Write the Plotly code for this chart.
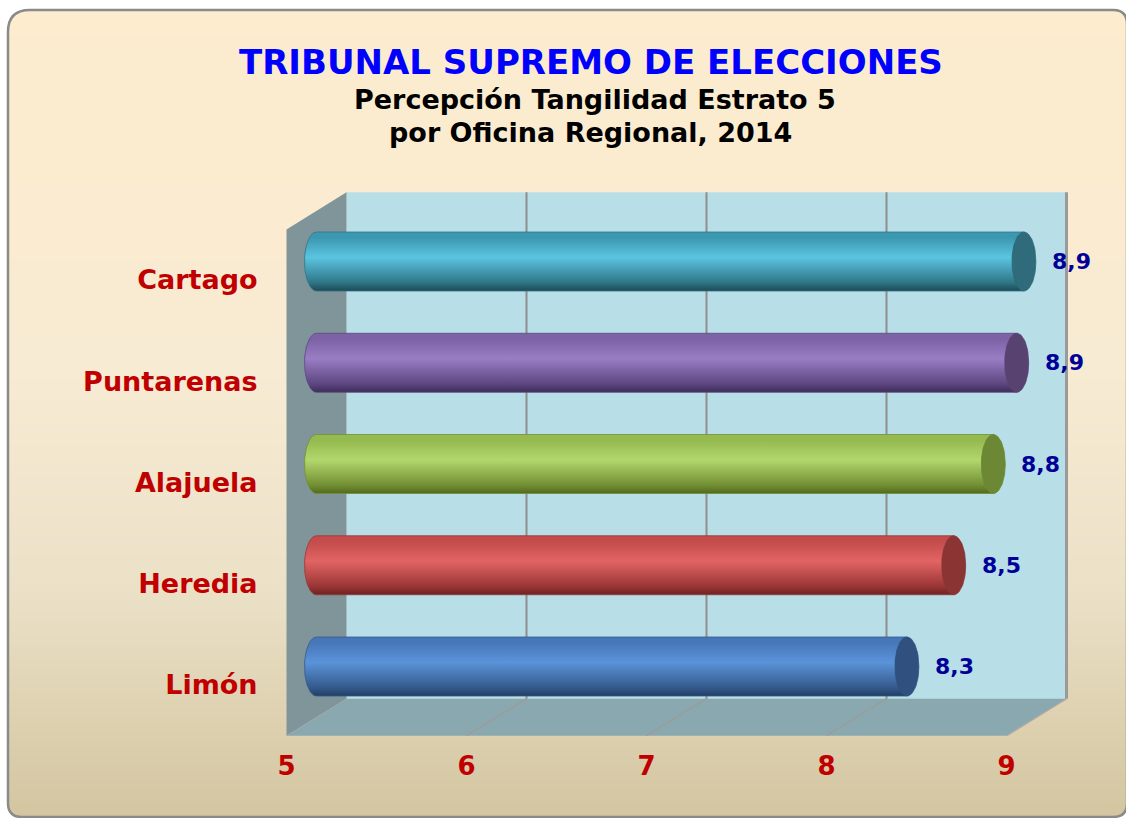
import numpy as np
import plotly.graph_objects as go

# ---------------- data ----------------
categories = ["Limón", "Heredia", "Alajuela", "Puntarenas", "Cartago"]
values = [8.28, 8.54, 8.76, 8.89, 8.93]
x_ticks = [5, 6, 7, 8, 9]
x_tick_labels = ["5", "6", "7", "8", "9"]
title_text = "TRIBUNAL SUPREMO DE ELECCIONES"
subtitle_lines = ["Percepción Tangilidad Estrato 5", "por Oficina Regional, 2014"]

# ---------------- styles ----------------
bar_styles = [
    dict(bottom="#213F63", low="#34598C", hi="#5B93D9", top="#4777B8", cap="#30517F"),   # Limón
    dict(bottom="#6E2222", low="#9A3535", hi="#E26464", top="#C44C4C", cap="#8A3434"),   # Heredia
    dict(bottom="#52691F", low="#728F34", hi="#B3D76C", top="#94BA50", cap="#6C8834"),   # Alajuela
    dict(bottom="#3E2D58", low="#5C4680", hi="#9A7DC4", top="#7D62A6", cap="#574270"),   # Puntarenas
    dict(bottom="#1D4954", low="#2E7586", hi="#5BC5E1", top="#3C98B0", cap="#2F6B7A"),   # Cartago
]
FONT = "DejaVu Sans"
RED = "#C00000"

W, H = 1126, 818
ML, MR, MT, MB = 272, 16, 185, 82
PW, PH = W - ML - MR, H - MT - MB

# axis scale (front plane)
X5, SX = 286.5, 180.0      # pixel of value 5, px per unit
Y0, SY = 685.0, 101.25     # pixel of first category, px per category
xr = [5 - (X5 - ML) / SX, 5 + (W - MR - X5) / SX]
yr = [(Y0 - (H - MB)) / SY, (Y0 - MT) / SY]

# 3D depth offsets
DX, DY = 60 / SX, 37 / SY
CX, CY = DX / 2, DY / 2
RY = 29.5 / SY
RX = 12 / SX


def pp(px, py):
    return (px - ML) / PW, (H - MB - py) / PH


def lerp_hex(c1, c2, t):
    a = [int(c1[i:i + 2], 16) for i in (1, 3, 5)]
    b = [int(c2[i:i + 2], 16) for i in (1, 3, 5)]
    return "rgb(%d,%d,%d)" % tuple(round(a[k] + (b[k] - a[k]) * t) for k in range(3))


bg_stops = [(0.0, "#FDECCE"), (0.45, "#F8EBD3"), (0.72, "#EBE1C7"), (1.0, "#D3C5A0")]


def bg_color(t):
    for (t0, c0), (t1, c1) in zip(bg_stops[:-1], bg_stops[1:]):
        if t <= t1:
            return lerp_hex(c0, c1, (t - t0) / (t1 - t0))
    return bg_stops[-1][1]


shapes = []
# ---- background gradient inside rounded frame ----
BL_, BT_, BR_, BB_ = 8, 10, 1127, 817
rTL, rTR, rBL, rBR = 22, 14, 14, 14


def inset(y, r_top, r_bot):
    if y < BT_ + r_top:
        d = BT_ + r_top - y
        return r_top - np.sqrt(max(r_top ** 2 - d ** 2, 0))
    if y > BB_ - r_bot:
        d = y - (BB_ - r_bot)
        return r_bot - np.sqrt(max(r_bot ** 2 - d ** 2, 0))
    return 0.0


step = 3
for y in range(BT_, BB_, step):
    ym = y + step / 2
    li = inset(ym, rTL, rBL)
    ri = inset(ym, rTR, rBR)
    x0, y0 = pp(BL_ + li, min(y + step + 1, BB_))
    x1, y1 = pp(BR_ - ri, y)
    shapes.append(dict(type="rect", xref="paper", yref="paper", x0=x0, x1=x1, y0=y0, y1=y1,
                       fillcolor=bg_color(ym / H), line=dict(width=0), layer="below"))


def P(px, py):
    a, b = pp(px, py)
    return "%.5f,%.5f" % (a, b)


border = ("M " + P(BL_, BT_ + rTL) + " Q " + P(BL_, BT_) + " " + P(BL_ + rTL, BT_) +
          " L " + P(BR_ - rTR, BT_) + " Q " + P(BR_, BT_) + " " + P(BR_, BT_ + rTR) +
          " L " + P(BR_, BB_ - rBR) + " Q " + P(BR_, BB_) + " " + P(BR_ - rBR, BB_) +
          " L " + P(BL_ + rBL, BB_) + " Q " + P(BL_, BB_) + " " + P(BL_, BB_ - rBL) + " Z")
shapes.append(dict(type="path", xref="paper", yref="paper", path=border,
                   line=dict(color="#8A8A8A", width=2.5), layer="below"))

# ---- 3D walls (data coordinates) ----
xa, xb = x_ticks[0], x_ticks[-1]
ya, yb = -0.5, len(categories) - 0.5
shapes.append(dict(type="rect", xref="x", yref="y", x0=xa + DX, x1=xb + DX, y0=ya + DY, y1=yb + DY,
                   fillcolor="#B8DFE8", line=dict(width=0), layer="below"))
shapes.append(dict(type="path", xref="x", yref="y",
                   path=f"M {xa},{ya} L {xa},{yb} L {xa+DX},{yb+DY} L {xa+DX},{ya+DY} Z",
                   fillcolor="#7F9599", line=dict(width=0), layer="below"))
shapes.append(dict(type="path", xref="x", yref="y",
                   path=f"M {xa},{ya} L {xb},{ya} L {xb+DX},{ya+DY} L {xa+DX},{ya+DY} Z",
                   fillcolor="#8AA8B0", line=dict(width=0), layer="below"))
for t in x_ticks[1:-1]:
    shapes.append(dict(type="line", xref="x", yref="y", x0=t + DX, x1=t + DX, y0=ya + DY, y1=yb + DY,
                       line=dict(color="#8E8E8E", width=2), layer="below"))
    shapes.append(dict(type="line", xref="x", yref="y", x0=t, x1=t + DX, y0=ya, y1=ya + DY,
                       line=dict(color="#9C9C9C", width=1.5), layer="below"))
shapes.append(dict(type="line", xref="x", yref="y", x0=xb + DX, x1=xb + DX, y0=ya + DY, y1=yb + DY,
                   line=dict(color="#9A9A9A", width=3), layer="below"))
shapes.append(dict(type="line", xref="x", yref="y", x0=xb, x1=xb + DX, y0=ya, y1=ya + DY,
                   line=dict(color="#A8A8A8", width=1.5), layer="below"))

fig = go.Figure()

# ---- cylinders ----
th_left = np.linspace(np.pi / 2, 3 * np.pi / 2, 41)
th_full = np.linspace(0, 2 * np.pi, 81)
annotations = []
for i, (cat, v) in enumerate(zip(categories, values)):
    st = bar_styles[i]
    yc = i + CY
    x0 = x_ticks[0] + CX
    x1 = v + CX
    bx = list(x0 + RX * np.cos(th_left)) + [x1, x1, x0]
    by = list(yc + RY * np.sin(th_left)) + [yc - RY, yc + RY, yc + RY]
    fig.add_trace(go.Scatter(
        x=bx, y=by, mode="lines", fill="toself",
        line=dict(width=0.8, color=st["low"]),
        fillgradient=dict(type="vertical", start=yc - RY, stop=yc + RY,
                          colorscale=[[0, st["bottom"]], [0.14, st["low"]], [0.57, st["hi"]],
                                      [0.9, st["top"]], [1, st["top"]]]),
        hoverinfo="skip", showlegend=False))
    cx_ = x1 + RX * np.cos(th_full)
    cy_ = yc + RY * np.sin(th_full)
    fig.add_trace(go.Scatter(
        x=cx_, y=cy_, mode="lines", fill="toself",
        line=dict(width=0.8, color=st["cap"]), fillcolor=st["cap"],
        name=cat, text=[f"{cat}: {v:.1f}".replace(".", ",")] * len(cx_), hoverinfo="text",
        showlegend=False))
    annotations.append(dict(x=x1, y=yc, xref="x", yref="y", xanchor="left", yanchor="middle",
                            xshift=26, showarrow=False,
                            text=f"{v:.1f}".replace(".", ","),
                            font=dict(family=FONT, size=22, color="#000099", weight="bold")))

# ---- titles ----
tx, ty = pp(591, 62)
annotations.append(dict(x=tx, y=ty, xref="paper", yref="paper", xanchor="center", yanchor="middle",
                        showarrow=False, text=title_text,
                        font=dict(family=FONT, size=34, color="#0000FF", weight="bold")))
for line, (lx, ly) in zip(subtitle_lines, [(595, 100), (590, 132)]):
    ax_, ay_ = pp(lx, ly)
    annotations.append(dict(x=ax_, y=ay_, xref="paper", yref="paper", xanchor="center",
                            yanchor="middle", showarrow=False, text=line,
                            font=dict(family=FONT, size=27, color="#000000", weight="bold")))

fig.update_layout(
    width=W, height=H,
    margin=dict(l=ML, r=MR, t=MT, b=MB, pad=0),
    paper_bgcolor="white", plot_bgcolor="rgba(0,0,0,0)",
    showlegend=False,
    shapes=shapes, annotations=annotations,
    xaxis=dict(range=xr, tickmode="array", tickvals=x_ticks, ticktext=x_tick_labels,
               ticks="outside", ticklen=7, tickcolor="rgba(0,0,0,0)",
               showgrid=False, zeroline=False, showline=False, fixedrange=True,
               tickfont=dict(family=FONT, size=26, color=RED, weight="bold")),
    yaxis=dict(range=yr, tickmode="array", tickvals=list(range(len(categories))),
               ticktext=categories, ticks="outside", ticklen=8, tickcolor="rgba(0,0,0,0)",
               showgrid=False, zeroline=False, showline=False, fixedrange=True,
               tickfont=dict(family=FONT, size=27, color=RED, weight="bold")),
)

fig.write_html("out.html", config={"displayModeBar": False},
               post_script="document.body.style.margin='0';")
